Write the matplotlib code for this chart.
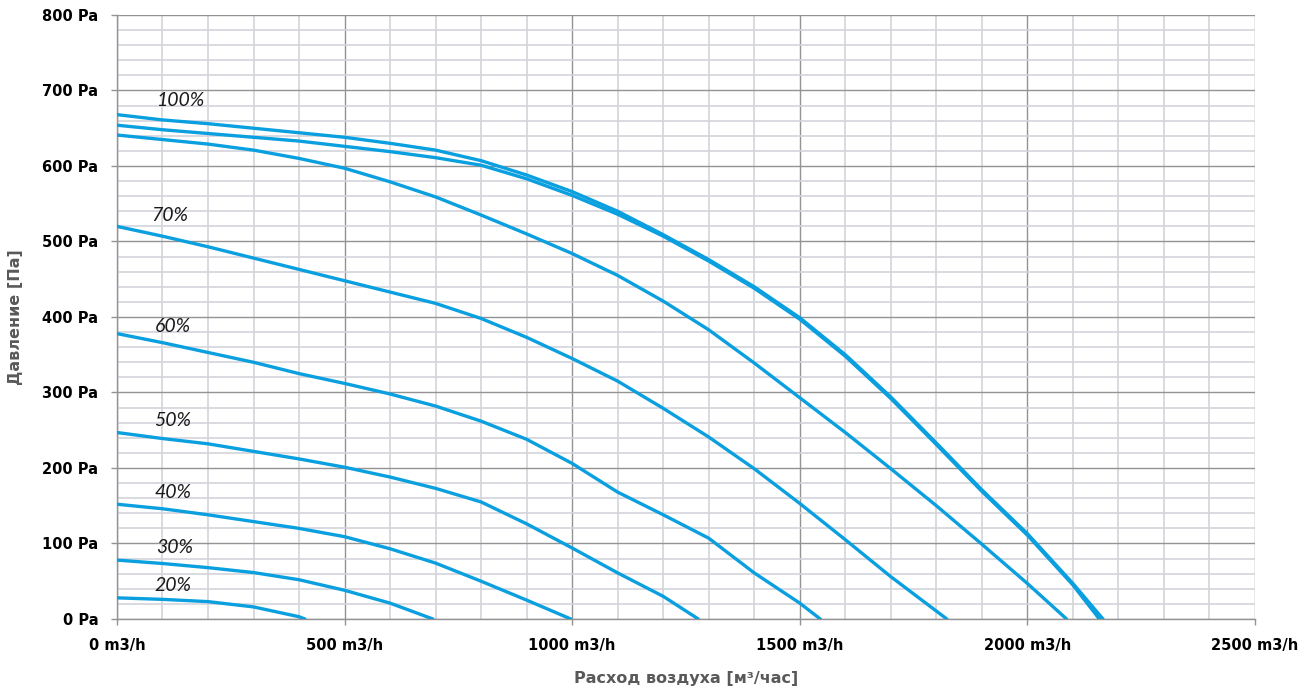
import matplotlib
matplotlib.use('Agg')
import matplotlib.pyplot as plt
from matplotlib.ticker import MultipleLocator, FuncFormatter

# fan curves: flow [m3/h] and pressure [Pa]
q20 = [0, 100, 200, 300, 400, 413]
p20 = [28, 26, 23, 16, 3, 0]

q30 = [0, 100, 200, 300, 400, 500, 600, 694]
p30 = [78, 73.5, 68, 61.5, 52, 38, 21, 0]

q40 = [0, 100, 200, 300, 400, 500, 600, 700, 800, 900, 997]
p40 = [152, 146, 138, 129, 120, 109, 93, 74, 50, 25, 0]

q50 = [0, 100, 200, 300, 400, 500, 600, 700, 800, 900, 1000, 1100, 1200, 1277]
p50 = [247, 239, 232, 222, 212, 201, 188, 173, 155, 126, 94, 61, 30, 0]

q60 = [0, 100, 200, 300, 400, 500, 600, 700, 800, 900, 1000, 1100, 1200, 1300, 1400, 1500, 1545]
p60 = [378, 366, 353, 340, 325, 312, 298, 282, 262, 238, 206, 168, 138, 107, 61, 21, 0]

q70 = [0, 100, 200, 300, 400, 500, 600, 700, 800, 900, 1000, 1100, 1200, 1300, 1400, 1500, 1600, 1700, 1823]
p70 = [520, 507, 493, 478, 463, 448, 433, 418, 398, 373, 345, 315, 279, 241, 199, 153, 105, 56, 0]

q80 = [0, 100, 200, 300, 400, 500, 600, 700, 800, 900, 1000, 1100, 1200, 1300, 1400, 1500, 1600, 1700, 1800, 1900, 2000, 2086]
p80 = [641, 635, 629, 621, 610, 597, 579, 559, 535, 510, 484, 455, 421, 383, 339, 293, 247, 199, 150, 99, 47, 0]

q90 = [0, 100, 200, 300, 400, 500, 600, 700, 800, 900, 1000, 1100, 1200, 1300, 1400, 1500, 1600, 1700, 1800, 1900, 2000, 2100, 2158]
p90 = [654, 648, 643, 638, 633, 626, 619, 611, 601, 583, 561, 536, 507, 474, 438, 397, 348, 292, 231, 169, 111, 45, 0]

q100 = [0, 100, 200, 300, 400, 500, 600, 700, 800, 900, 1000, 1100, 1200, 1300, 1400, 1500, 1600, 1700, 1800, 1900, 2000, 2100, 2166]
p100 = [668, 661, 656, 650, 644, 638, 630, 621, 607, 588, 566, 540, 509, 476, 440, 399, 350, 294, 233, 171, 113, 47, 0]

curves = [(q20, p20), (q30, p30), (q40, p40), (q50, p50), (q60, p60),
          (q70, p70), (q80, p80), (q90, p90), (q100, p100)]

label_text = ['100%', '70%', '60%', '50%', '40%', '30%', '20%']
label_x = [138, 116, 123, 123, 123, 127, 123]
label_y = [687, 535, 387, 263, 167, 95, 45]

blue = '#0a9fdf'

fig = plt.figure(figsize=(13.11, 6.93), dpi=100)
ax = fig.add_axes([0.0892, 0.1068, 0.8681, 0.8716])

for q, p in curves:
    ax.plot(q, p, color=blue, lw=2.4, solid_capstyle='round',
            solid_joinstyle='round', zorder=3)

for t, x, y in zip(label_text, label_x, label_y):
    ax.text(x, y, t, ha='center', va='center', fontsize=14,
            family='Lato', style='italic', color='#1a1a1a', zorder=4)

ax.set_xlim(0, 2500)
ax.set_ylim(0, 800)
ax.xaxis.set_major_locator(MultipleLocator(500))
ax.xaxis.set_minor_locator(MultipleLocator(100))
ax.yaxis.set_major_locator(MultipleLocator(100))
ax.yaxis.set_minor_locator(MultipleLocator(20))

ax.grid(which='minor', color='#d3d3db', lw=1.2, zorder=0)
ax.grid(which='major', color='#939393', lw=1.0, zorder=1)
ax.set_axisbelow(True)

ax.xaxis.set_major_formatter(FuncFormatter(lambda v, pos: f'{int(v)} m3/h'))
ax.yaxis.set_major_formatter(FuncFormatter(lambda v, pos: f'{int(v)} Pa'))

ax.tick_params(which='major', length=4, width=1, color='#939393', pad=9.5,
               labelsize=10.5, labelcolor='black')
ax.tick_params(which='minor', length=0)
for lab in ax.get_xticklabels() + ax.get_yticklabels():
    lab.set_fontweight('bold')

for s in ['top', 'right']:
    ax.spines[s].set_visible(False)
for s in ['left', 'bottom']:
    ax.spines[s].set_color('#939393')
    ax.spines[s].set_linewidth(1.0)

ax.set_xlabel('Расход воздуха [м³/час]', fontsize=11.5, fontweight='bold',
              color='#595959', labelpad=13)
ax.set_ylabel('Давление [Па]', fontsize=11.5, fontweight='bold',
              color='#595959', labelpad=14)

fig.savefig('out.png', dpi=100)
